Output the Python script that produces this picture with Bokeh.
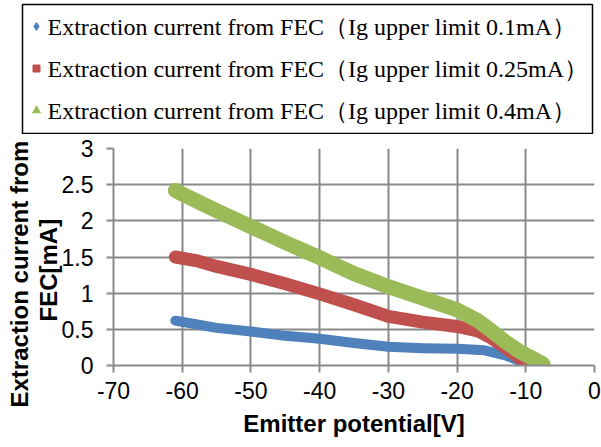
from bokeh.plotting import figure
from bokeh.models import Range1d, FixedTicker, CustomJSTickFormatter, Title
from bokeh.layouts import column
from bokeh.core.properties import value
from bokeh.embed import file_html
from bokeh.resources import INLINE

x_ticks = [-70, -60, -50, -40, -30, -20, -10, 0]
y_ticks = [0, 0.5, 1, 1.5, 2, 2.5, 3]

blue_x = [-61, -58, -55, -50, -45, -40, -35, -30, -25, -20, -16, -13, -11, -9, -7.5]
blue_y = [0.62, 0.57, 0.52, 0.47, 0.41, 0.37, 0.31, 0.26, 0.24, 0.23, 0.21, 0.14, 0.07, 0.02, 0.01]

red_x = [-61, -58, -55, -50, -45, -40, -35, -30, -25, -20, -17, -15, -13, -11, -9, -7.5]
red_y = [1.5, 1.45, 1.37, 1.26, 1.13, 0.99, 0.84, 0.68, 0.6, 0.54, 0.48, 0.38, 0.25, 0.11, 0.04, 0.01]

green_x = [-61, -60, -55, -50, -45, -40, -35, -30, -25, -20, -17, -15, -13, -11, -9, -7.5]
green_y = [2.42, 2.37, 2.14, 1.92, 1.70, 1.49, 1.27, 1.09, 0.93, 0.77, 0.62, 0.48, 0.33, 0.2, 0.1, 0.02]

labels = [
    "Extraction current from FEC\uff08Ig upper limit 0.1mA\uff09",
    "Extraction current from FEC\uff08Ig upper limit 0.25mA\uff09",
    "Extraction current from FEC\uff08Ig upper limit 0.4mA\uff09",
]

BLUE = "#4F81BD"
RED = "#C0504D"
GREEN = "#9BBB59"
GRID = "#898989"

W = 601
LH = 134
PH = 313

# ---- legend panel (pixel-space figure) ----
lf = figure(width=W, height=LH, output_backend="svg", toolbar_location=None,
            x_axis_type=None, y_axis_type=None,
            x_range=Range1d(0, W), y_range=Range1d(LH, 0),
            min_border_left=0, min_border_right=0, min_border_top=0, min_border_bottom=0)
lf.frame_align = False
lf.outline_line_color = None
lf.xgrid.visible = False
lf.ygrid.visible = False
lf.quad(left=[22], right=[592], top=[4], bottom=[133], fill_color="white",
        line_color="black", line_width=1.5)
row_y = [26, 68, 110]
lf.scatter(x=[36, 36, 36], y=row_y, marker=["diamond", "square", "triangle"],
           size=[8, 7, 8], color=[BLUE, RED, GREEN])
lf.text(x=[47, 47, 47], y=row_y, text=labels, text_font=value("Liberation Serif"),
        text_font_size=value("24px"), text_color="black", text_baseline="middle",
        text_align="left")

# ---- main chart ----
p = figure(width=W, height=PH, output_backend="svg", toolbar_location=None,
           x_range=Range1d(-70, 0), y_range=Range1d(0, 3),
           min_border_left=113, min_border_right=7, min_border_top=14, min_border_bottom=82)
p.frame_align = False
p.outline_line_color = None

fmt = CustomJSTickFormatter(code="return tick.toString();")
for ax, ticks in ((p.xaxis[0], x_ticks), (p.yaxis[0], y_ticks)):
    ax.ticker = FixedTicker(ticks=ticks)
    ax.formatter = fmt
    ax.axis_line_color = GRID
    ax.axis_line_width = 2
    ax.major_tick_line_color = GRID
    ax.major_tick_line_width = 2
    ax.major_tick_out = 7
    ax.major_tick_in = 0
    ax.minor_tick_line_color = None
    ax.major_label_text_font = "Liberation Sans"
    ax.major_label_text_font_size = "23px"
    ax.major_label_text_color = "black"
    ax.axis_label_text_font = "Liberation Sans"
    ax.axis_label_text_font_style = "bold"
    ax.axis_label_text_font_size = "24px"
    ax.axis_label_text_color = "black"

p.xaxis.axis_label = "Emitter potential[V]"
p.xaxis.axis_label_standoff = 8
p.xaxis.major_label_standoff = 9
p.yaxis.major_label_standoff = 13

for txt, off, so in (("FEC[mA]", 44, -6), ("Extraction current from", -42, 6)):
    t = Title(text=txt, align="left", offset=off, standoff=so,
              text_font="Liberation Sans", text_font_style="bold",
              text_font_size="24px", text_color="black")
    p.add_layout(t, "left")

for g in (p.xgrid[0], p.ygrid[0]):
    g.grid_line_color = GRID
    g.grid_line_width = 2
p.xgrid.ticker = FixedTicker(ticks=x_ticks)
p.ygrid.ticker = FixedTicker(ticks=y_ticks)

p.line(blue_x, blue_y, line_color=BLUE, line_width=10, line_cap="round", line_join="round")
p.line(red_x, red_y, line_color=RED, line_width=13, line_cap="round", line_join="round")
p.line(green_x, green_y, line_color=GREEN, line_width=15, line_cap="round", line_join="round")

layout = column(lf, p, spacing=0)
open("out.html", "w").write(file_html(layout, INLINE))
